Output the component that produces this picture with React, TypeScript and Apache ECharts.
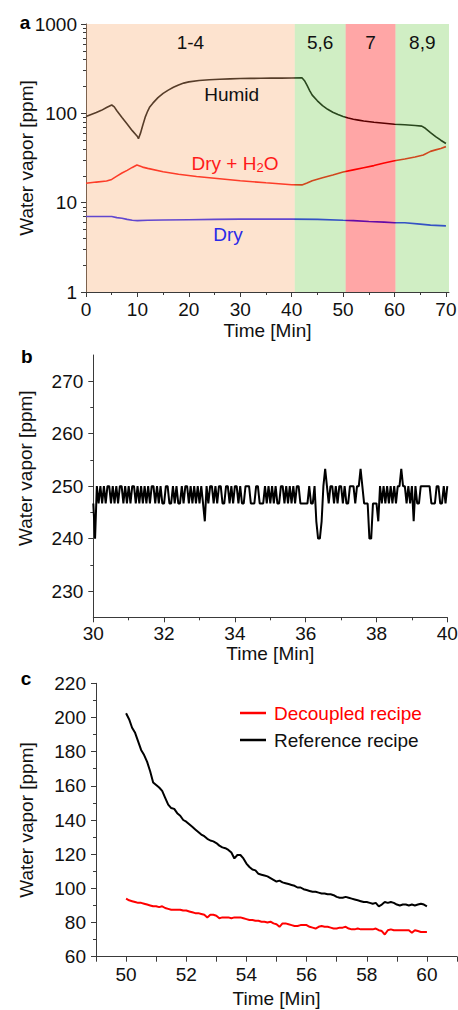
import React, { useEffect, useRef } from 'react';
import * as echarts from 'echarts';

const FONT = "'Liberation Sans', Arial, sans-serif";
const INK = '#111';
const AXIS = '#3a3a3a';

// ---------- Panel a ----------
const aHumidT = [0, 1, 2, 3, 4, 5, 5.5, 6, 7, 8, 9, 10, 10.2, 10.6, 11, 11.5, 12, 12.4, 13, 14, 15, 16, 17, 18, 19, 20, 22, 24, 26, 28, 30, 32, 34, 36, 38, 40, 42, 42.5, 43, 43.5, 44, 45, 46, 47, 48, 49, 50, 51, 52, 53, 54, 56, 58, 60, 62, 64, 65.3, 66, 67, 68, 69, 70];
const aHumid = [92, 97, 102, 108, 116, 124, 118, 107, 90, 76, 64, 55, 52, 60, 72, 90, 106, 118, 130, 150, 167, 182, 196, 208, 218, 225, 233, 238, 241, 243, 245, 246, 247, 248, 248, 249, 250, 232, 205, 180, 160, 138, 122, 111, 103, 97, 92, 88.5, 86, 84, 82, 79.5, 77.5, 75.5, 74.5, 73, 72, 68, 61, 55, 50, 46];

const aWetT = [0, 2, 4, 5, 6, 7, 8, 9, 9.9, 11, 12, 15, 18, 21.5, 25, 30, 35, 40, 42, 43, 44, 46, 48, 50, 52, 54, 56, 58, 60, 62, 64, 65.6, 67, 68, 69, 70];
const aWet = [16.5, 17, 17.5, 18.2, 19.8, 21.5, 23, 24.8, 26.4, 25, 24.2, 22.2, 20.8, 19.6, 18.8, 17.6, 16.7, 15.9, 15.8, 16.6, 17.6, 19, 20.4, 22, 23.3, 24.6, 26, 27.8, 29.4, 30.8, 32.5, 34.2, 37.5, 39, 40.5, 42.4];

const aDryT = [0, 2, 4, 5, 6, 7, 8, 9, 10, 12, 15, 20, 25, 30, 35, 40, 45, 50, 52, 55, 58, 60, 62, 65, 67, 70];
const aDry = [7.0, 7.0, 7.0, 7.0, 6.8, 6.7, 6.5, 6.35, 6.3, 6.35, 6.4, 6.45, 6.5, 6.55, 6.55, 6.55, 6.5, 6.35, 6.3, 6.15, 6.05, 5.97, 5.95, 5.75, 5.6, 5.5];

const aRegionStart = [0, 40.6, 50.5, 60.2];
const aRegionEnd = [40.6, 50.5, 60.2, 70.6];
const aRegionLabels = ['1-4', '5,6', '7', '8,9'];
const aRegionColors = ['rgba(249,175,118,0.35)', 'rgba(121,206,86,0.35)', 'rgba(255,0,0,0.35)', 'rgba(121,206,86,0.35)'];

const aXTicks = [0, 10, 20, 30, 40, 50, 60, 70];
const aXMinor = [5, 15, 25, 35, 45, 55, 65];
const aYMinorVals = [2, 3, 4, 5, 6, 7, 8, 9, 20, 30, 40, 50, 60, 70, 80, 90, 200, 300, 400, 500, 600, 700, 800, 900];

// ---------- Panel b ----------
const bStart = 30;
const bStep = 0.05;
const bValues = [
  246.7, 240, 250, 246.7, 250, 246.7, 250, 246.7, 250, 250,
  246.7, 250, 246.7, 250, 246.7, 250, 250, 246.7, 250, 246.7,
  250, 246.7, 250, 250, 246.7, 250, 246.7, 250, 246.7, 250,
  246.7, 250, 246.7, 250, 250, 246.7, 250, 246.7, 250, 246.7,
  246.7, 250, 250, 246.7, 246.7, 250, 246.7, 250, 246.7, 246.7,
  250, 246.7, 250, 250, 246.7, 250, 246.7, 250, 246.7, 250,
  246.7, 250, 246.7, 243.3, 250, 246.7, 250, 250, 246.7, 250,
  246.7, 250, 250, 246.7, 246.7, 250, 250, 246.7, 250, 246.7,
  250, 250, 246.7, 250, 246.7, 246.7, 250, 250, 250, 246.7,
  246.7, 246.7, 250, 250, 246.7, 246.7, 246.7, 250, 246.7, 250,
  246.7, 250, 246.7, 250, 246.7, 246.7, 250, 250, 246.7, 250,
  246.7, 250, 246.7, 250, 246.7, 250, 250, 246.7, 246.7, 246.7,
  246.7, 246.7, 250, 246.7, 246.7, 250, 243.3, 240, 240, 243.3,
  250, 253.3, 250, 246.7, 250, 250, 246.7, 250, 246.7, 250,
  250, 246.7, 250, 246.7, 246.7, 250, 250, 250, 246.7, 250,
  250, 253.3, 250, 246.7, 246.7, 246.7, 240, 240, 246.7, 246.7,
  246.7, 243.3, 250, 246.7, 250, 246.7, 250, 246.7, 250, 246.7,
  250, 246.7, 250, 250, 253.3, 250, 250, 246.7, 250, 246.7,
  250, 243.3, 250, 246.7, 246.7, 250, 250, 250, 250, 250,
  250, 246.7, 246.7, 246.7, 250, 250, 246.7, 246.7, 250, 246.7,
  250
];
const bYTicks = [230, 240, 250, 260, 270];
const bYMinor = [235, 245, 255, 265];

// ---------- Panel c ----------
const cStart = 50;
const cStep = 0.1;
const cReference = [
  202.5, 199, 194, 191, 186, 181, 178, 174, 168.5, 162,
  160.5, 159, 157, 153, 149, 147, 146.5, 144, 142.5, 140,
  139, 137.5, 136, 134.5, 133, 131.5, 130.5, 129, 128, 127.5,
  126.5, 125, 124, 123.5, 122.5, 121, 117.5, 119.5, 119.5, 117.5,
  114.5, 112.5, 111, 110.5, 108.5, 108, 107.5, 107, 106, 105,
  104, 104.5, 103.5, 103, 102.5, 102, 101.5, 100.5, 100.5, 99.5,
  99, 98.5, 98, 98, 97.5, 97, 97, 96.5, 96.5, 96,
  95, 94.5, 94.5, 95, 94.5, 94, 93.5, 93, 92.5, 92,
  92, 91.5, 91, 91.5, 89.5, 90.5, 92, 91.5, 92, 91.5,
  90.5, 90, 90.5, 90.5, 90, 90.5, 90, 90.5, 91, 90.5,
  89.5
];
const cDecoupled = [
  94, 93, 92.5, 92, 91.5, 91.5, 91, 90.5, 90, 89.5,
  89.5, 89, 89.5, 88.5, 88, 87.5, 87.5, 87.5, 87.5, 87,
  87, 86.5, 86, 85.5, 85.5, 85, 84.5, 83, 84.5, 84.5,
  84, 82.5, 83, 83, 83, 82.5, 83, 83, 83, 82.5,
  82, 81.5, 81.5, 81, 81, 80.5, 80.5, 80, 80.5, 79.5,
  79, 77.5, 79.5, 79.5, 79, 78.5, 78, 78, 78.5, 78.5,
  78.5, 77.5, 77, 76.5, 77.5, 78, 77.5, 77.5, 77, 76.5,
  76.5, 77, 77, 77.5, 76.5, 76, 76, 76.5, 76, 76,
  76, 76, 76, 76.5, 75.5, 75, 73, 75.5, 76, 75.5,
  75.5, 75.5, 75.5, 75.5, 75.5, 74, 75.5, 75, 74.5, 74.5,
  74.5
];

const pairs = (t: number[], v: number[]) => v.map((y, i) => [t[i], y]);
const grid = (start: number, step: number, v: number[]) => v.map((y, i) => [+(start + i * step).toFixed(3), y]);

function mainAxis(o: any) {
  return {
    type: 'value',
    splitLine: { show: false },
    nameLocation: 'middle',
    nameMoveOverlap: false,
    ...o,
    nameTextStyle: { color: INK, fontSize: 19, fontFamily: FONT, ...(o.nameTextStyle || {}) },
    axisLine: { show: true, onZero: false, lineStyle: { color: AXIS, width: 1 } },
    axisTick: { show: true, length: 5, lineStyle: { color: AXIS, width: 1 }, ...(o.axisTick || {}) },
    axisLabel: { color: INK, fontSize: 19, fontFamily: FONT, ...(o.axisLabel || {}) },
  };
}
function minorAxis(o: any) {
  return {
    type: 'value',
    splitLine: { show: false },
    axisLabel: { show: false },
    ...o,
    axisLine: { show: false, onZero: false },
    axisTick: { show: true, length: 3, lineStyle: { color: AXIS, width: 1 }, ...(o.axisTick || {}) },
  };
}

function buildOption() {
  const rich = {
    n: { fontSize: 19, fontFamily: FONT, fill: '#ff1a1a', color: '#ff1a1a' },
    s: { fontSize: 13, fontFamily: FONT, fill: '#ff1a1a', color: '#ff1a1a', padding: [9, 0, 0, 0] },
  };
  const txt = (text: string, x: number, y: number, color: string, font: string) => ({
    type: 'text', x, y, z: 100,
    style: { text, fill: color, font, textAlign: 'center', textVerticalAlign: 'middle', align: 'center', verticalAlign: 'middle' },
  });
  return {
    animation: false,
    textStyle: { fontFamily: FONT },
    grid: [
      { left: 86, top: 24, width: 363, height: 268, outerBoundsMode: 'none' },
      { left: 93.3, top: 355, width: 354, height: 262.3, outerBoundsMode: 'none' },
      { left: 96, top: 683.3, width: 361, height: 273.4, outerBoundsMode: 'none' },
    ],
    xAxis: [
      mainAxis({
        gridIndex: 0, min: 0, max: 70.6, interval: 10, name: 'Time [Min]', nameGap: 29,
        axisTick: { customValues: aXTicks }, axisLabel: { customValues: aXTicks, margin: 8 },
      }),
      minorAxis({ gridIndex: 0, position: 'bottom', min: 0, max: 70.6, axisTick: { customValues: aXMinor } }),
      mainAxis({
        gridIndex: 1, min: 30, max: 40, interval: 2, name: 'Time [Min]', nameGap: 27,
        minorTick: { show: true, splitNumber: 2, length: 3, lineStyle: { color: AXIS } },
        axisLabel: { margin: 7 },
      }),
      mainAxis({
        gridIndex: 2, min: 49, max: 61, interval: 1, name: 'Time [Min]', nameGap: 32,
        axisLabel: { margin: 8, formatter: (v: number) => (Math.round(v) % 2 === 0 ? String(Math.round(v)) : '') },
      }),
    ],
    yAxis: [
      mainAxis({
        gridIndex: 0, type: 'log', logBase: 10, min: 1, max: 1000, splitNumber: 3,
        name: 'Water vapor [ppm]', nameGap: 50,
        axisLabel: { margin: 9, formatter: (v: number) => String(Math.round(v)) },
      }),
      minorAxis({
        gridIndex: 0, position: 'left', min: 0, max: 3,
        axisTick: { customValues: aYMinorVals.map((v) => Math.log10(v)) },
      }),
      mainAxis({
        gridIndex: 1, min: 225, max: 275, interval: 5, name: 'Water vapor [ppm]', nameGap: 58,
        nameTextStyle: { padding: [0, 0, 0, 36] },
        axisTick: { customValues: bYTicks }, axisLabel: { customValues: bYTicks, margin: 10 },
      }),
      minorAxis({ gridIndex: 1, position: 'left', min: 225, max: 275, axisTick: { customValues: bYMinor } }),
      mainAxis({
        gridIndex: 2, min: 60, max: 220, interval: 20, name: 'Water vapor [ppm]', nameGap: 60,
        minorTick: { show: true, splitNumber: 2, length: 3, lineStyle: { color: AXIS } },
        axisLabel: { margin: 10 },
      }),
    ],
    legend: {
      orient: 'vertical', left: 235, top: 697.5, itemWidth: 26, itemHeight: 2.5, itemGap: 6, icon: 'rect',
      textStyle: { fontSize: 19, fontFamily: FONT, lineHeight: 21, padding: [0, 0, 0, 3] },
      data: [
        { name: 'Decoupled recipe', textStyle: { color: '#ff0000' } },
        { name: 'Reference recipe', textStyle: { color: '#111' } },
      ],
    },
    series: [
      { name: 'Humid', type: 'line', xAxisIndex: 0, yAxisIndex: 0, data: pairs(aHumidT, aHumid), showSymbol: false, symbol: 'none', lineStyle: { color: '#000', width: 1.6 }, itemStyle: { color: '#000' }, z: 2 },
      { name: 'Dry + H2O', type: 'line', xAxisIndex: 0, yAxisIndex: 0, data: pairs(aWetT, aWet), showSymbol: false, symbol: 'none', lineStyle: { color: '#ff0000', width: 1.6 }, itemStyle: { color: '#ff0000' }, z: 2 },
      { name: 'Dry', type: 'line', xAxisIndex: 0, yAxisIndex: 0, data: pairs(aDryT, aDry), showSymbol: false, symbol: 'none', lineStyle: { color: '#1010ff', width: 1.6 }, itemStyle: { color: '#1010ff' }, z: 2 },
      {
        name: 'regions', type: 'custom', xAxisIndex: 0, yAxisIndex: 0, z: 5, silent: true,
        data: aRegionStart.map((s, i) => [s, aRegionEnd[i]]),
        encode: { x: [0, 1] },
        renderItem: (params: any, api: any) => {
          const i = params.dataIndex;
          const tl = api.coord([api.value(0), 1000]);
          const br = api.coord([api.value(1), 1]);
          return {
            type: 'group',
            children: [
              { type: 'rect', shape: { x: tl[0], y: tl[1], width: br[0] - tl[0], height: br[1] - tl[1] }, style: { fill: aRegionColors[i] } },
              {
                type: 'text', x: (tl[0] + br[0]) / 2, y: tl[1] + 18,
                style: { text: aRegionLabels[i], fill: INK, font: `19px ${FONT}`, textAlign: 'center', textVerticalAlign: 'middle', align: 'center', verticalAlign: 'middle' },
              },
            ],
          };
        },
      },
      { name: 'Panel b', type: 'line', xAxisIndex: 2, yAxisIndex: 2, data: grid(bStart, bStep, bValues), showSymbol: false, symbol: 'none', lineStyle: { color: '#000', width: 2 }, itemStyle: { color: '#000' } },
      { name: 'Decoupled recipe', type: 'line', xAxisIndex: 3, yAxisIndex: 4, data: grid(cStart, cStep, cDecoupled), showSymbol: false, symbol: 'none', lineStyle: { color: '#ff0000', width: 2 }, itemStyle: { color: '#ff0000' } },
      { name: 'Reference recipe', type: 'line', xAxisIndex: 3, yAxisIndex: 4, data: grid(cStart, cStep, cReference), showSymbol: false, symbol: 'none', lineStyle: { color: '#000', width: 2 }, itemStyle: { color: '#000' } },
    ],
    graphic: [
      txt('a', 25, 22, '#000', `bold 19px ${FONT}`),
      txt('b', 26.7, 356, '#000', `bold 19px ${FONT}`),
      txt('c', 26, 678, '#000', `bold 19px ${FONT}`),
      txt('Humid', 231.7, 94, INK, `19px ${FONT}`),
      {
        type: 'text', x: 235, y: 163.3, z: 100,
        style: { text: '{n|Dry + H}{s|2}{n|O}', rich, fill: '#ff1a1a', font: `19px ${FONT}`, textAlign: 'center', textVerticalAlign: 'middle', align: 'center', verticalAlign: 'middle' },
      },
      txt('Dry', 228, 234.3, '#2a2ae8', `19px ${FONT}`),
    ],
  };
}

export default function App() {
  const ref = useRef<HTMLDivElement>(null);
  useEffect(() => {
    document.body.style.margin = '0';
    const chart = echarts.init(ref.current!, null, { renderer: 'svg' });
    chart.setOption(buildOption() as any);
    return () => chart.dispose();
  }, []);
  return <div ref={ref} style={{ width: 458, height: 1010 }} />;
}
